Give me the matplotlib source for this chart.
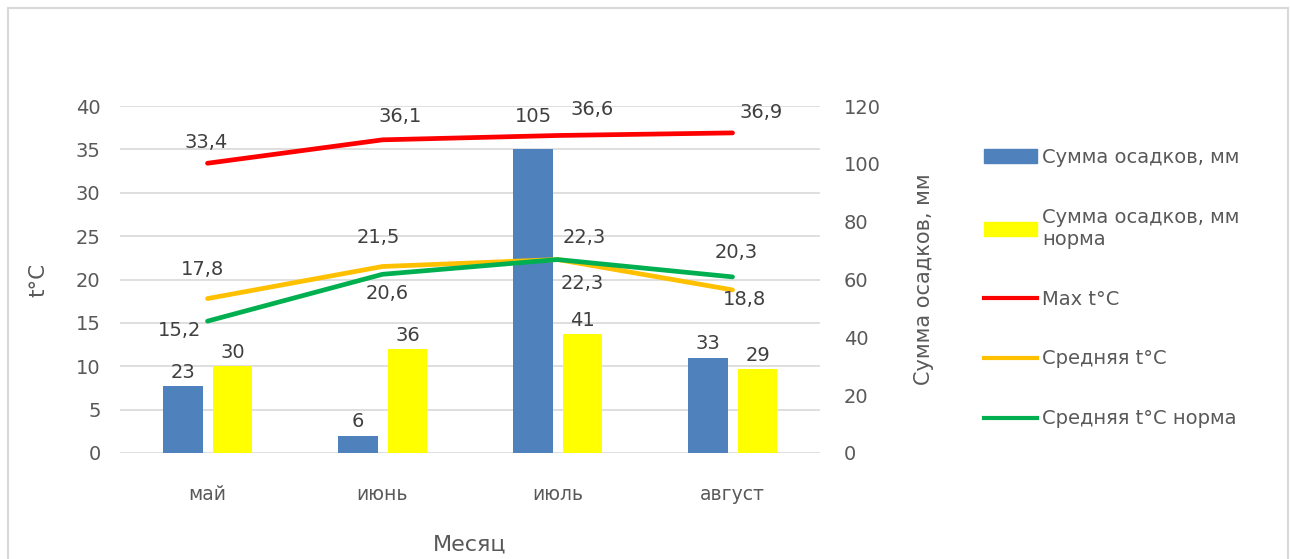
import numpy as np
import matplotlib
matplotlib.use('Agg')
import matplotlib.pyplot as plt
from matplotlib.patches import Patch
from matplotlib.lines import Line2D

plt.rcParams['font.family'] = ['DejaVu Sans']

months = ['май', 'июнь', 'июль', 'август']
precip = [23, 6, 105, 33]
precip_norm = [30, 36, 41, 29]
t_max = [33.4, 36.1, 36.6, 36.9]
t_mean = [17.8, 21.5, 22.3, 18.8]
t_mean_norm = [15.2, 20.6, 22.3, 20.3]

txt = '#404040'
tick_col = '#595959'

fig = plt.figure(figsize=(12.9, 5.59), dpi=100)
ax = fig.add_axes([120/1290, 1 - 453/559, 700/1290, 347/559])
ax2 = ax.twinx()
ax.set_zorder(ax2.get_zorder() + 1)
ax.patch.set_visible(False)

x = np.arange(len(months))

# gridlines (left-axis steps) drawn behind the bars
for v in range(0, 45, 5):
    ax2.axhline(v * 3, color='#D9D9D9', lw=1.2, zorder=0)

w = 0.223
b1 = ax2.bar(x - 0.14, precip, w, color='#4F81BD', zorder=2)
b2 = ax2.bar(x + 0.145, precip_norm, w, color='#FFFF00', zorder=2)
bar_pad1 = [3, 3, 17, 3]
bar_pad2 = [3, 3, 3, 3]
for bars, vals, pads in [(b1, precip, bar_pad1), (b2, precip_norm, bar_pad2)]:
    for r, v, p in zip(bars, vals, pads):
        ax2.annotate(str(v), (r.get_x() + r.get_width() / 2, v), xytext=(0, p),
                     textcoords='offset points', ha='center', va='bottom',
                     fontsize=14, color=txt)

ax.plot(x, t_max, color='#FF0000', lw=3.4, solid_capstyle='round')
ax.plot(x, t_mean, color='#FFC000', lw=3.4, solid_capstyle='round')
ax.plot(x, t_mean_norm, color='#00B050', lw=3.4, solid_capstyle='round')

# label offsets in pixels (dx, dy)
off_max = [(-1, 21), (18, 23), (35, 26), (29, 20)]
off_mean = [(-5, 29), (-4, 29), (27, 22), (12, -10)]
off_norm = [(-28, -9), (5, -19), (25, -24), (4, 24)]
for vals, offs in [(t_max, off_max), (t_mean, off_mean), (t_mean_norm, off_norm)]:
    for i, (v, o) in enumerate(zip(vals, offs)):
        ax.annotate(f'{v:.1f}'.replace('.', ','), (x[i], v),
                    xytext=(o[0] * 0.72, o[1] * 0.72), textcoords='offset points',
                    ha='center', va='center', fontsize=14, color=txt)

ax.set_xlim(-0.5, 3.5)
ax.set_ylim(0, 40)
ax2.set_ylim(0, 120)
ax.set_yticks(range(0, 45, 5))
ax2.set_yticks(range(0, 140, 20))
ax.set_xticks(x)
ax.set_xticklabels(months)

for a in (ax, ax2):
    for s in a.spines.values():
        s.set_visible(False)
ax.tick_params(axis='y', length=0, pad=14, labelsize=14, labelcolor=tick_col)
ax.tick_params(axis='x', length=0, pad=23, labelsize=13.5, labelcolor=tick_col)
ax2.tick_params(axis='y', length=0, pad=17, labelsize=14, labelcolor=tick_col)

ax.set_ylabel('t°C', fontsize=15.5, color=tick_col, labelpad=20)
ax2.set_ylabel('Сумма осадков, мм', fontsize=15, color=tick_col, labelpad=24)
ax.set_xlabel('Месяц', fontsize=16, color=tick_col, labelpad=22)

handles = [Patch(color='#4F81BD'), Patch(color='#FFFF00'),
           Line2D([], [], color='#FF0000', lw=3),
           Line2D([], [], color='#FFC000', lw=3),
           Line2D([], [], color='#00B050', lw=3)]
labels = ['Сумма осадков, мм', 'Сумма осадков, мм\nнорма', 'Max t°C',
          'Средняя t°C', 'Средняя t°C норма']
fig.legend(handles, labels, loc='upper left', bbox_to_anchor=(984/1290, 1 - 148/559),
           frameon=False, fontsize=14, labelcolor=tick_col, handlelength=2.7,
           handletextpad=0.3, labelspacing=2.1, borderpad=0, borderaxespad=0)

# chart border
fig.add_artist(Line2D([8/1290, 8/1290], [0, 1 - 8/559], color='#D9D9D9', lw=1.5,
                      transform=fig.transFigure))
fig.add_artist(Line2D([8/1290, 1288/1290], [1 - 8/559, 1 - 8/559], color='#D9D9D9', lw=1.5,
                      transform=fig.transFigure))
fig.add_artist(Line2D([1288/1290, 1288/1290], [0, 1 - 8/559], color='#D9D9D9', lw=1.5,
                      transform=fig.transFigure))

fig.savefig('out.png', dpi=100)
